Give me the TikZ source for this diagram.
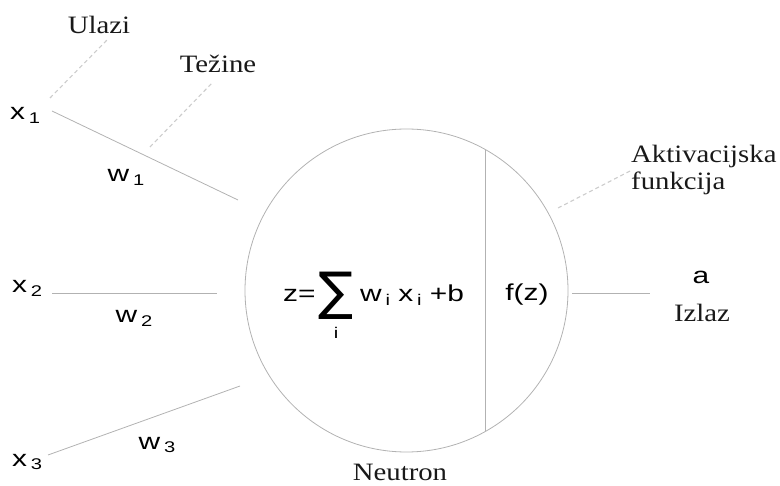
\documentclass[tikz,border=0pt]{standalone}
\usepackage{fontspec}
\newfontfamily\serfont[FakeStretch=1.15]{Liberation Serif}
\newfontfamily\varfont[FakeStretch=1.3]{Liberation Sans}
\newfontfamily\symfont{DejaVu Sans}
\newcommand\lowsub[1]{\,\raisebox{-0.32ex}{\fontsize{15.5}{16}\selectfont #1}}
\begin{document}
\begin{tikzpicture}[x=1pt,y=-1pt,
  lbl/.style={font=\fontsize{25}{27}\selectfont\serfont, text=black!90, inner sep=0pt},
  var/.style={font=\fontsize{23}{25}\selectfont\varfont, text=black, inner sep=0pt},
  wire/.style={draw=black!30, line width=0.8pt},
  guide/.style={draw=black!20, dashed, dash pattern=on 4pt off 3pt, line width=1.1pt}]
\useasboundingbox (0,0) rectangle (780,486);
% labels
\node[lbl] (ulazi) at (99,25) {Ulazi};
\node[lbl] (tezine) at (218,64) {Težine};
\node[lbl, align=left, anchor=west] (aktiv) at (631,170) {Aktivacijska\\funkcija};
\node[lbl] (izlaz) at (702,313) {Izlaz};
\node[lbl] (neutron) at (400,472) {Neutron};
% variables
\node[var] (x1) at (25,115) {x\lowsub{1}};
\node[var] (x2) at (27,288) {x\lowsub{2}};
\node[var] (x3) at (27,462) {x\lowsub{3}};
\node[var] (w1) at (126,177) {w\lowsub{1}};
\node[var] (w2) at (134,318) {w\lowsub{2}};
\node[var] (w3) at (157,445) {w\lowsub{3}};
\node[var] (a) at (701,277) {a};
% neuron
\coordinate (c) at (406.5,290.5);
\draw[wire] (c) circle[radius=161.5];
\coordinate (vt) at (485.7,149.8);
\coordinate (vb) at (485.7,431.2);
\draw[wire] (vt) -- (vb);
\node[var, anchor=base west] (zeq) at (283,302) {z=};
\node[inner sep=0pt, font=\fontsize{52}{52}\selectfont\symfont] (sum) at (336,296) {∑};
\node[var, anchor=base west] (wx) at (360,302) {w\lowsub{i} x\lowsub{i} +b};
\node[var, font=\fontsize{15.5}{16}\selectfont\varfont] (si) at (336,333) {i};
\node[var] (fz) at (527,295) {f(z)};
% connectors
\coordinate (x1e) at (52,111);
\coordinate (n1) at (238,200);
\coordinate (x2e) at (52,293);
\coordinate (n2) at (217,293);
\coordinate (x3e) at (48,455);
\coordinate (n3) at (240,386);
\coordinate (o1) at (572,293);
\coordinate (o2) at (650,293);
\draw[wire] (x1e) -- (n1);
\draw[wire] (x2e) -- (n2);
\draw[wire] (x3e) -- (n3);
\draw[wire] (o1) -- (o2);
% guide lines
\coordinate (g1a) at (50,98);
\coordinate (g1b) at (107,40);
\coordinate (g2a) at (150,147);
\coordinate (g2b) at (213,82);
\coordinate (g3a) at (558,208);
\coordinate (g3b) at (632,170);
\draw[guide] (g1a) -- (g1b);
\draw[guide] (g2a) -- (g2b);
\draw[guide] (g3a) -- (g3b);
\end{tikzpicture}
\end{document}
